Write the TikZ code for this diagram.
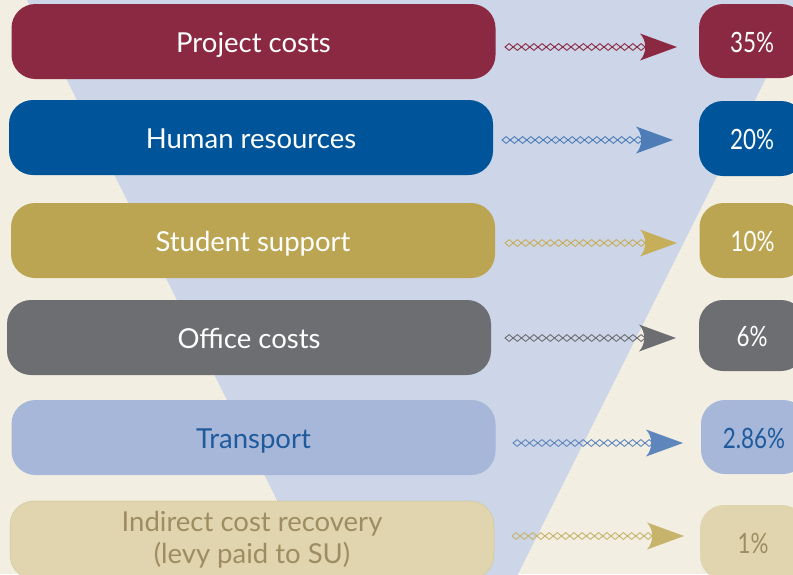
\documentclass[tikz,border=0pt]{standalone}
\usepackage{fontspec}
\setmainfont{Lato}
\definecolor{bgcream}{HTML}{F2EEE2}
\definecolor{tri}{HTML}{CCD6E8}
\definecolor{cmaroon}{HTML}{8B2942}
\definecolor{cblue}{HTML}{00559A}
\definecolor{cgold}{HTML}{BBA552}
\definecolor{cgray}{HTML}{6D6E71}
\definecolor{clblue}{HTML}{A6B7D9}
\definecolor{clbluetext}{HTML}{1E5A9C}
\definecolor{cbeige}{HTML}{E0D5AF}
\definecolor{cbeigetext}{HTML}{9E8D62}
\definecolor{cbeigeline}{HTML}{D3C699}
\definecolor{abluearr}{HTML}{4D7CB7}
\definecolor{agoldarr}{HTML}{C6AE5A}
\definecolor{albluearr}{HTML}{5E86BC}
\definecolor{abeigearr}{HTML}{C7B36B}
\newcommand{\dchain}[2]{%
  \begin{scope}[shift={(#1)}]
    \foreach \i in {0,...,16}
      \draw[#2, line width=0.9pt] (\i*8.25,0) -- ++(4.125,3.4) -- ++(4.125,-3.4) -- ++(-4.125,-3.4) -- cycle;
  \end{scope}}
\newcommand{\ahead}[2]{%
  \fill[#2] ($(#1)+(-4,-13.5)$) -- ($(#1)+(33,0)$) -- ($(#1)+(-4,13.5)$) .. controls ($(#1)+(3,6)$) and ($(#1)+(3,-6)$) .. cycle;}
\newcommand{\pct}[1]{\scalebox{0.8}[1]{#1}}
\usetikzlibrary{calc}
\begin{document}
\begin{tikzpicture}[x=1pt,y=-1pt,
  lbox/.style={rounded corners=24pt, minimum width=484pt, minimum height=75pt, inner sep=0pt, text=white, font=\fontsize{27.5}{32}\selectfont, align=center, text height=22pt, text depth=0pt},
  rbox/.style={rounded corners=24pt, minimum width=106pt, inner sep=0pt, text=white, font=\fontsize{28}{32}\selectfont, align=center, text height=22pt, text depth=0pt}]
\useasboundingbox (0,0) rectangle (793,574);
\fill[bgcream] (0,0) rectangle (793,574);
\begin{scope}
  \clip (0,0) rectangle (793,574);
  \fill[tri] (27,0) -- (805,0) -- (416,778) -- cycle;
\end{scope}
% left boxes
\node[lbox, fill=cmaroon] (l1) at (253.5,41.5) {Project costs};
\node[lbox, fill=cblue] (l2) at (251,137.5) {Human resources};
\node[lbox, fill=cgold] (l3) at (253,240.5) {Student support};
\node[lbox, fill=cgray] (l4) at (249,337.5) {Office costs};
\node[lbox, fill=clblue, text=clbluetext] (l5) at (253.5,437.5) {Transport};
\node[lbox, fill=cbeige, draw=cbeigeline, densely dotted, line width=1pt, text=cbeigetext, minimum height=78pt, text height=, text depth=] (l6) at (252,540) {Indirect cost recovery\\(levy paid to SU)};
% right boxes
\node[rbox, fill=cmaroon, minimum height=74pt] (r1) at (752,41) {\pct{35\%}};
\node[rbox, fill=cblue, minimum height=75pt] (r2) at (752,138.5) {\pct{20\%}};
\node[rbox, fill=cgold, minimum height=75pt] (r3) at (752.5,240.5) {\pct{10\%}};
\node[rbox, fill=cgray, minimum height=71pt] (r4) at (752,335.5) {\pct{6\%}};
\node[rbox, fill=clblue, text=clbluetext, minimum height=74pt] (r5) at (754,437) {\pct{2.86\%}};
\node[rbox, fill=cbeige, text=cbeigetext, minimum height=75pt] (r6) at (753,542.5) {\pct{1\%}};
% arrow coordinates
\coordinate (s1) at (505,47);  \coordinate (h1) at (644,47);
\coordinate (s2) at (502,140); \coordinate (h2) at (640,140);
\coordinate (s3) at (505,243); \coordinate (h3) at (644,243);
\coordinate (s4) at (505,338); \coordinate (h4) at (643,338);
\coordinate (s5) at (513,443); \coordinate (h5) at (650,443);
\coordinate (s6) at (512,536); \coordinate (h6) at (651,536);
\dchain{s1}{cmaroon}\ahead{h1}{cmaroon}
\dchain{s2}{abluearr}\ahead{h2}{abluearr}
\dchain{s3}{agoldarr}\ahead{h3}{agoldarr}
\dchain{s4}{cgray}\ahead{h4}{cgray}
\dchain{s5}{albluearr}\ahead{h5}{albluearr}
\dchain{s6}{abeigearr}\ahead{h6}{abeigearr}
\end{tikzpicture}
\end{document}
